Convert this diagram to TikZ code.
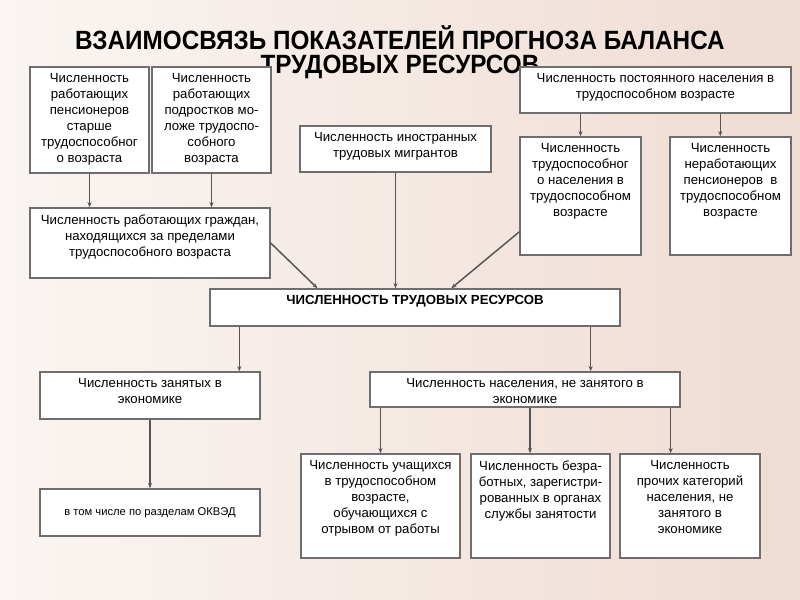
\documentclass[tikz,border=0pt]{standalone}
\usepackage{fontspec}
\setmainfont{Liberation Sans}
\newfontfamily\titlefont[FakeStretch=0.92]{Liberation Sans}
\usetikzlibrary{arrows.meta, calc}

\definecolor{bgmid}{HTML}{F8F1ED}
\definecolor{bgside}{HTML}{EFDCD3}
\definecolor{boxline}{HTML}{6E6E6E}
\definecolor{linkline}{HTML}{555555}

\begin{document}
\begin{tikzpicture}[
        x=0.75pt, y=-0.75pt,
        box/.style={rectangle, draw=boxline, line width=1pt, fill=white, inner sep=0pt},
        toptext/.style={label={[anchor=north, align=center, font=\fontsize{9.9}{12}\selectfont, inner sep=5.2pt]north:{#1}}},
        arrow/.style={draw=linkline, line width=1.1pt, -{Stealth[length=4pt, width=3pt]}}
        ]

        % background
        \fill[left color=bgmid!70!white, middle color=bgmid, right color=bgside] (0,0) rectangle (800,600);

        \node[font=\titlefont\bfseries\fontsize{19.8}{18}\selectfont, align=center] (title) at (400,52) {ВЗАИМОСВЯЗЬ ПОКАЗАТЕЛЕЙ ПРОГНОЗА БАЛАНСА\\ТРУДОВЫХ РЕСУРСОВ};

        % upper row
        \node[box, minimum width=89.25pt, minimum height=79.5pt, toptext={Численность\\работающих\\пенсионеров\\старше\\трудоспособног\\о возраста}] (pens) at (89.5,120) {};
        \node[box, minimum width=89.25pt, minimum height=79.5pt, toptext={Численность\\работающих\\подростков мо-\\ложе трудоспо-\\собного\\возраста}] (teen) at (211.5,120) {};
        \node[box, minimum width=180pt, minimum height=52.5pt, toptext={Численность работающих граждан,\\находящихся за пределами\\трудоспособного возраста}] (outs) at (150,243) {};
        \node[box, minimum width=143.25pt, minimum height=34.5pt, toptext={Численность иностранных\\трудовых мигрантов}] (migr) at (395.5,149) {};
        \node[box, minimum width=203.25pt, minimum height=34.5pt, toptext={Численность постоянного населения в\\трудоспособном возрасте}] (perm) at (655.5,90) {};
        \node[box, minimum width=90.75pt, minimum height=88.5pt, toptext={Численность\\трудоспособног\\о населения в\\трудоспособном\\возрасте}] (able) at (580.5,196) {};
        \node[box, minimum width=90.75pt, minimum height=88.5pt, toptext={Численность\\неработающих\\пенсионеров\ \ в\\трудоспособном\\возрасте}] (nonw) at (730.5,196) {};

        % middle
        \node[box, minimum width=307.5pt, minimum height=27.75pt, toptext={\bfseries ЧИСЛЕННОСТЬ ТРУДОВЫХ РЕСУРСОВ}] (total) at (415,307.5) {};

        % lower rows
        \node[box, minimum width=165pt, minimum height=35.25pt, toptext={Численность занятых в\\экономике}] (empl) at (150,395.5) {};
        \node[box, minimum width=232.5pt, minimum height=26.25pt, toptext={Численность населения, не занятого в\\экономике}] (unemp) at (525,389.5) {};
        \node[box, minimum width=165pt, minimum height=35.25pt, font=\fontsize{8.4}{10}\selectfont] (okved) at (150,512.5) {в том числе по разделам ОКВЭД};
        \node[box, minimum width=119.25pt, minimum height=78pt, toptext={Численность учащихся\\в трудоспособном\\возрасте,\\обучающихся с\\отрывом от работы}] (stud) at (380.5,506) {};
        \node[box, minimum width=104.25pt, minimum height=78pt, toptext={Численность безра-\\ботных, зарегистри-\\рованных в органах\\службы занятости}] (unreg) at (540.5,506) {};
        \node[box, minimum width=105pt, minimum height=78pt, toptext={Численность\\прочих категорий\\населения, не\\занятого в\\экономике}] (other) at (690,506) {};

        \draw[arrow] (pens.south) -- (pens.south |- outs.north);
        \draw[arrow] (teen.south) -- (teen.south |- outs.north);
        \draw[arrow] (able.north |- perm.south) -- (able.north);
        \draw[arrow] ($(perm.south west)!0.738!(perm.south east)$) coordinate (p2) -- (p2 |- nonw.north);
        \draw[arrow] (outs.east) -- ($(total.north west)!0.263!(total.north east)$);
        \draw[arrow] (migr.south) -- (migr.south |- total.north);
        \draw[arrow] ($(able.north west)!0.8!(able.south west)$) -- ($(total.north west)!0.588!(total.north east)$);
        \draw[arrow] ($(total.south west)+(30,0)$) coordinate (t1) -- (t1 |- empl.north);
        \draw[arrow] ($(total.south east)+(-30,0)$) coordinate (t2) -- (t2 |- unemp.north);
        \draw[arrow] (empl) -- (okved);
        \draw[arrow] (stud.north |- unemp.south) -- (stud.north);
        \draw[arrow] ($(unemp.south)+(5,0)$) coordinate (u2) -- (u2 |- unreg.north);
        \draw[arrow] ($(unemp.south east)+(-10,0)$) coordinate (u3) -- (u3 |- other.north);
    \end{tikzpicture}
\end{document}
